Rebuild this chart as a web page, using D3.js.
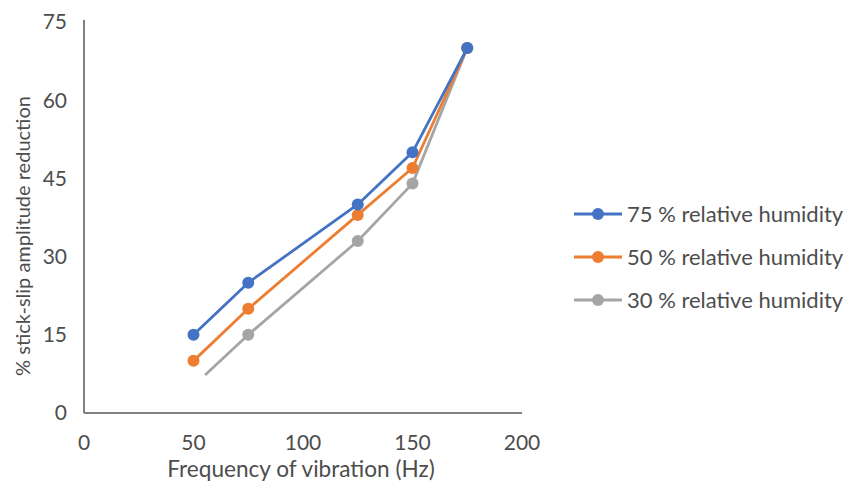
<!DOCTYPE html>
<html>
<head>
<meta charset="utf-8">
<script src="https://cdn.jsdelivr.net/npm/d3@7"></script>
<style>
  body { margin: 0; background: #fff; }
  text { font-family: Lato, "Open Sans", sans-serif; fill: #4d4d4d; }
</style>
</head>
<body>
<div id="chart"></div>
<script>
// data
var seriesNames = ["75 % relative humidity", "50 % relative humidity", "30 % relative humidity"];
var colors = ["#4472c4", "#ed7d31", "#a5a5a5"];
var freq75 = [50, 75, 125, 150, 175];
var vals75 = [15, 25, 40, 50, 70];
var freq50 = [50, 75, 125, 150, 175];
var vals50 = [10, 20, 38, 47, 70];
// grey line starts without a marker near 55 Hz
var freq30 = [55.3, 75, 125, 150, 175];
var vals30 = [7.3, 15, 33, 44, 70];
var marks30 = [false, true, true, true, true];
var xTicks = [0, 50, 100, 150, 200];
var yTicks = [0, 15, 30, 45, 60, 75];

var W = 846, H = 490;
var svg = d3.select("#chart").append("svg").attr("width", W).attr("height", H);

var x = d3.scaleLinear().domain([0, 200]).range([84, 522]);
var y = d3.scaleLinear().domain([0, 75]).range([413, 22]);

// axes lines
svg.append("line").attr("x1", x(0)).attr("x2", x(0)).attr("y1", y(75) - 2).attr("y2", y(0))
  .style("stroke", "#808080").style("stroke-width", 2);
svg.append("line").attr("x1", x(0)).attr("x2", x(200)).attr("y1", y(0)).attr("y2", y(0))
  .style("stroke", "#808080").style("stroke-width", 2);

// tick labels
svg.selectAll(".ylab").data(yTicks).enter().append("text")
  .attr("x", 67).attr("y", function(d){ return y(d); })
  .attr("dy", "0.35em").attr("text-anchor", "end")
  .style("font-size", "21px").text(function(d){ return d; });
svg.selectAll(".xlab").data(xTicks).enter().append("text")
  .attr("x", function(d){ return x(d); }).attr("y", 443)
  .attr("dy", "0.35em").attr("text-anchor", "middle")
  .style("font-size", "21px").text(function(d){ return d; });

// axis titles
svg.append("text").attr("x", 301).attr("y", 477).attr("text-anchor", "middle")
  .style("font-size", "22.6px").text("Frequency of vibration (Hz)");
svg.append("text").attr("transform", "translate(23,236) rotate(-90)")
  .attr("dy", "0.35em").attr("text-anchor", "middle")
  .style("font-size", "20px").text("% stick-slip amplitude reduction");

var series = [
  { f: freq30, v: vals30, m: marks30, c: colors[2] },
  { f: freq50, v: vals50, m: null, c: colors[1] },
  { f: freq75, v: vals75, m: null, c: colors[0] }
];

var line = d3.line().x(function(d){ return x(d[0]); }).y(function(d){ return y(d[1]); });

series.forEach(function(s){
  var pts = s.f.map(function(f, i){ return [f, s.v[i], s.m ? s.m[i] : true]; });
  svg.append("path").attr("d", line(pts))
    .style("fill", "none").style("stroke", s.c).style("stroke-width", 2.8)
    .style("stroke-linejoin", "round");
  svg.selectAll(null).data(pts.filter(function(p){ return p[2]; })).enter().append("circle")
    .attr("cx", function(p){ return x(p[0]); }).attr("cy", function(p){ return y(p[1]); })
    .attr("r", 6).style("fill", s.c);
});

// legend
var legend = svg.append("g");
seriesNames.forEach(function(name, i){
  var ly = 214 + i * 43;
  legend.append("line").attr("x1", 574).attr("x2", 622).attr("y1", ly).attr("y2", ly)
    .style("stroke", colors[i]).style("stroke-width", 2.8);
  legend.append("circle").attr("cx", 598).attr("cy", ly).attr("r", 6).style("fill", colors[i]);
  legend.append("text").attr("x", 627).attr("y", ly).attr("dy", "0.35em")
    .style("font-size", "22px").text(name);
});
</script>
</body>
</html>
